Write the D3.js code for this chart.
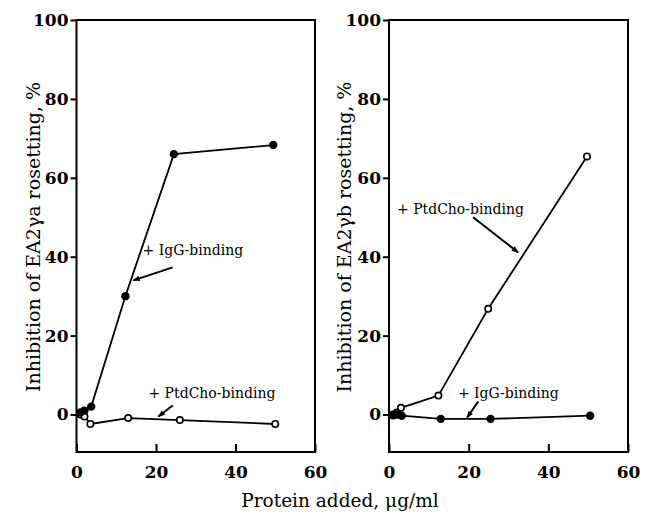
<!DOCTYPE html>
<html>
<head>
<meta charset="utf-8">
<script src="https://cdn.jsdelivr.net/npm/d3@7"></script>
<style>
  body { margin: 0; background: #fff; }
  text { font-family: "DejaVu Serif", serif; fill: #000; }
  .tick text { font-weight: bold; font-size: 17px; }
</style>
</head>
<body>
<div id="chart"></div>
<script>
// Data (x in ug/ml, y in % inhibition)
const xTicks = [0, 20, 40, 60];
const yTicks = [0, 20, 40, 60, 80, 100];

// panel a (EA2γa)
const aIgG = [[1, 0.5], [2, 1], [3.7, 2], [12.3, 30], [24.5, 66], [49.5, 68.3]];
const aPtd = [[1, 0], [2, -0.5], [3.5, -2.4], [13, -0.9], [26, -1.4], [50, -2.4]];
// panel b (EA2γb)
const bIgG = [[1, -0.2], [2, 0], [3.2, -0.3], [13, -1.1], [25.5, -1.1], [50.5, -0.3]];
const bPtd = [[1, 0], [2, 0.5], [3, 1.7], [12.4, 4.8], [24.9, 26.8], [49.7, 65.4]];

// annotations: text anchor + arrow (from -> to), in data units
const aNotes = [
  { label: "+ IgG-binding", at: [16.6, 40.4], from: [24.2, 37.3], to: [14.3, 34] },
  { label: "+ PtdCho-binding", at: [18.1, 4.1], from: [24.2, 2.3], to: [20.6, -0.5] }
];
const bNotes = [
  { label: "+ PtdCho-binding", at: [2, 50.8], from: [21.1, 50], to: [32.4, 41.1] },
  { label: "+ IgG-binding", at: [17.3, 4.3], from: [22.4, 3.3], to: [19.6, -0.8] }
];

const width = 652, height = 514;
const plotTop = 20, plotBottom = 452;

const svg = d3.select("#chart").append("svg")
  .attr("width", width)
  .attr("height", height);

svg.append("defs").append("marker")
  .attr("id", "head")
  .attr("viewBox", "0 0 10 10")
  .attr("refX", 9).attr("refY", 5)
  .attr("markerWidth", 9).attr("markerHeight", 7)
  .attr("markerUnits", "userSpaceOnUse")
  .attr("orient", "auto")
  .append("path")
  .attr("d", "M0,1 L10,5 L0,9 Z")
  .attr("fill", "#000");

function panel(x0, x1, filled, open, notes, ylabel, ylabelX) {
  const x = d3.scaleLinear().domain([0, 60]).range([x0, x1]);
  const y = d3.scaleLinear().domain([-9.5, 100]).range([plotBottom, plotTop]);

  const yAxis = svg.append("g")
    .attr("transform", `translate(${x0},0)`)
    .call(d3.axisLeft(y).tickValues(yTicks).tickSize(6).tickSizeOuter(0).tickPadding(2));
  yAxis.select(".domain").remove();
  yAxis.selectAll(".tick line").attr("stroke-width", 2);

  const xAxis = svg.append("g")
    .attr("transform", `translate(0,${plotBottom})`)
    .call(d3.axisBottom(x).tickValues(xTicks).tickSize(-8).tickSizeOuter(0).tickPadding(14));
  xAxis.select(".domain").remove();
  xAxis.selectAll(".tick line").attr("stroke-width", 2);

  // frame
  svg.append("rect")
    .attr("x", x0).attr("y", plotTop)
    .attr("width", x1 - x0).attr("height", plotBottom - plotTop)
    .attr("fill", "none").attr("stroke", "#000").attr("stroke-width", 2);

  const line = d3.line().x(d => x(d[0])).y(d => y(d[1]));

  [open, filled].forEach(s => {
    svg.append("path")
      .datum(s)
      .attr("fill", "none")
      .attr("stroke", "#000")
      .attr("stroke-width", 1.8)
      .attr("d", line);
  });

  svg.append("g").selectAll("circle")
    .data(open)
    .join("circle")
    .attr("cx", d => x(d[0])).attr("cy", d => y(d[1]))
    .attr("r", 3.2)
    .attr("fill", "#fff").attr("stroke", "#000").attr("stroke-width", 1.6);

  svg.append("g").selectAll("circle")
    .data(filled)
    .join("circle")
    .attr("cx", d => x(d[0])).attr("cy", d => y(d[1]))
    .attr("r", 4.2)
    .attr("fill", "#000");

  notes.forEach(n => {
    svg.append("text")
      .attr("x", x(n.at[0])).attr("y", y(n.at[1]))
      .attr("font-size", 14)
      .text(n.label);
    svg.append("line")
      .attr("x1", x(n.from[0])).attr("y1", y(n.from[1]))
      .attr("x2", x(n.to[0])).attr("y2", y(n.to[1]))
      .attr("stroke", "#000").attr("stroke-width", 2)
      .attr("marker-end", "url(#head)");
  });

  svg.append("text")
    .attr("transform", `translate(${ylabelX},237) rotate(-90)`)
    .attr("text-anchor", "middle")
    .attr("font-size", 19)
    .text(ylabel);
}

panel(76.5, 315, aIgG, aPtd, aNotes, "Inhibition of EA2γa rosetting, %", 40);
panel(389, 628, bIgG, bPtd, bNotes, "Inhibition of EA2γb rosetting, %", 351);

svg.append("text")
  .attr("x", 340).attr("y", 507)
  .attr("text-anchor", "middle")
  .attr("font-size", 18.5)
  .text("Protein added, μg/ml");
</script>
</body>
</html>
